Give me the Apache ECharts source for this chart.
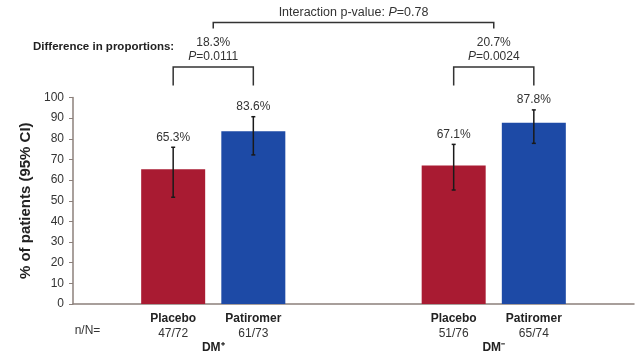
<!DOCTYPE html>
<html>
<head>
    <meta charset="utf-8">
    <style type="text/css">
        html,body { margin: 0px; padding: 0px; height: 100%; background: #fff; }
    </style>
    <script src="https://cdn.jsdelivr.net/npm/echarts@6/dist/echarts.min.js"></script>
</head>
<body>
    <div id="chart" style="width: 638px; height: 356px;"></div>
    <script type="text/javascript">
        // data
        var groups = ['DM⁺', 'DM⁻'];
        var treatments = ['Placebo', 'Patiromer'];
        var nN = [['47/72', '61/73'], ['51/76', '65/74']];
        var percent = [[65.3, 83.6], [67.1, 87.8]];
        var ciLow = [[51.7, 72.2], [55.2, 77.8]];
        var ciHigh = [[75.9, 90.7], [77.3, 94.0]];
        var diffPct = ['18.3%', '20.7%'];
        var diffP = ['0.0111', '0.0024'];
        var interactionP = '0.78';
        var yTicks = { min: 0, max: 100, step: 10 };

        // layout: slot positions on a 14-slot category axis
        var slotCount = 14;
        var groupSlots = [[2, 4], [9, 11]];
        var groupCenter = [3, 10];
        var colors = ['#a91b32', '#1d4aa6'];
        var FONT = '"Liberation Sans", Arial, sans-serif';

        var axisLabels = [], groupLabels = [], barData = [], errData = [];
        for (var i = 0; i < slotCount; i++) { axisLabels.push(''); groupLabels.push(''); barData.push('-'); }
        axisLabels[0] = '\n{m|n/N=}';
        groups.forEach(function (g, gi) {
            groupLabels[groupCenter[gi]] = g;
            treatments.forEach(function (t, ti) {
                var s = groupSlots[gi][ti];
                axisLabels[s] = '{b|' + t + '}\n{n|' + nN[gi][ti] + '}';
                barData[s] = { value: percent[gi][ti], itemStyle: { color: colors[ti] } };
                errData.push([s, ciLow[gi][ti], ciHigh[gi][ti], percent[gi][ti]]);
            });
        });
        var slotIdx = axisLabels.map(function (d, i) { return i; });

        var chart = echarts.init(document.getElementById('chart'));
        var option = {
            backgroundColor: '#fff',
            animation: false,
            textStyle: { fontFamily: FONT },
            grid: { left: 73, right: 4, top: 97.5, bottom: 52 },
            xAxis: [{
                type: 'category', data: slotIdx,
                axisLine: { lineStyle: { color: '#8c807b', width: 1.5 } },
                axisTick: { show: false },
                axisLabel: {
                    interval: 0, margin: 7,
                    formatter: function (v, i) { return axisLabels[i]; },
                    rich: {
                        b: { fontSize: 12, fontWeight: 'bold', color: '#222', lineHeight: 15, fontFamily: FONT },
                        n: { fontSize: 12, color: '#333', lineHeight: 15, fontFamily: FONT },
                        m: { fontSize: 12, color: '#333', lineHeight: 15, fontFamily: FONT, padding: [0, 11, 0, 0] }
                    }
                }
            }, {
                type: 'category', data: slotIdx, position: 'bottom', offset: 38,
                axisLine: { show: false }, axisTick: { show: false },
                axisLabel: {
                    interval: 0, margin: 0, fontSize: 12, fontWeight: 'bold', color: '#222',
                    formatter: function (v, i) { return groupLabels[i]; }
                }
            }],
            yAxis: {
                type: 'value', min: yTicks.min, max: yTicks.max, interval: yTicks.step,
                name: '% of patients (95% CI)', nameLocation: 'middle', nameGap: 39,
                nameTextStyle: { fontSize: 15, fontWeight: 'bold', color: '#222' },
                axisLine: { show: true, lineStyle: { color: '#8c807b', width: 1.5 } },
                axisTick: { show: true, length: 4, lineStyle: { color: '#8c807b' } },
                axisLabel: { fontSize: 12, color: '#333', margin: 9 },
                splitLine: { show: false }
            },
            series: [{
                type: 'bar', data: barData, barWidth: 64
            }, {
                // error bars + value labels
                type: 'custom', data: errData, clip: false, z: 5,
                renderItem: function (params, api) {
                    var lo = api.coord([api.value(0), api.value(1)]);
                    var hi = api.coord([api.value(0), api.value(2)]);
                    var x = lo[0];
                    var ls = { stroke: '#1a1a1a', lineWidth: 1.5 };
                    return { type: 'group', children: [
                        { type: 'line', shape: { x1: x, y1: lo[1], x2: x, y2: hi[1] }, style: ls },
                        { type: 'line', shape: { x1: x - 2, y1: lo[1], x2: x + 2, y2: lo[1] }, style: ls },
                        { type: 'line', shape: { x1: x - 2, y1: hi[1], x2: x + 2, y2: hi[1] }, style: ls },
                        { type: 'text', style: { text: api.value(3).toFixed(1) + '%', x: x, y: hi[1] - 10,
                            align: 'center', verticalAlign: 'middle', fontSize: 12, fontFamily: FONT, fill: '#333' } }
                    ] };
                }
            }, {
                // difference brackets per group
                type: 'custom', data: groups.map(function (g, gi) { return [gi]; }), clip: false, z: 5,
                renderItem: function (params, api) {
                    var gi = api.value(0);
                    var top = api.coord([groupCenter[gi], 100])[1];
                    var xc = api.coord([groupCenter[gi], 100])[0];
                    var xa = api.coord([groupSlots[gi][0], 100])[0];
                    var xb = api.coord([groupSlots[gi][1], 100])[0];
                    var yb = top - 30.5, yl = top - 12;
                    var ls = { stroke: '#333', lineWidth: 1.5, fill: null };
                    return { type: 'group', children: [
                        { type: 'polyline', shape: { points: [[xa, yl], [xa, yb], [xb, yb], [xb, yl]] }, style: ls },
                        { type: 'text', style: { text: diffPct[gi], x: xc, y: top - 55, align: 'center', verticalAlign: 'middle',
                            fontSize: 12, fontFamily: FONT, fill: '#333' } },
                        { type: 'text', style: { text: '{i|P}=' + diffP[gi], x: xc, y: top - 41, align: 'center', verticalAlign: 'middle',
                            fontSize: 12, fontFamily: FONT, fill: '#333', rich: { i: { fontStyle: 'italic', fontSize: 12, fontFamily: FONT, fill: '#333' } } } }
                    ] };
                }
            }, {
                // interaction bracket
                type: 'custom', data: [[0]], clip: false, z: 5,
                renderItem: function (params, api) {
                    var a = api.coord([groupCenter[0], 100]);
                    var b = api.coord([groupCenter[1], 100]);
                    var top = a[1];
                    var yb = top - 75, yl = top - 69;
                    var ls = { stroke: '#333', lineWidth: 1.5, fill: null };
                    return { type: 'group', children: [
                        { type: 'polyline', shape: { points: [[a[0], yl], [a[0], yb], [b[0], yb], [b[0], yl]] }, style: ls },
                        { type: 'text', style: { text: 'Interaction p-value: {i|P}=' + interactionP, x: (a[0] + b[0]) / 2, y: top - 84.5,
                            align: 'center', verticalAlign: 'middle', fontSize: 12.5, fontFamily: FONT, fill: '#333',
                            rich: { i: { fontStyle: 'italic', fontSize: 12.5, fontFamily: FONT, fill: '#333' } } } }
                    ] };
                }
            }],
            graphic: [{
                type: 'text', left: 33, top: 41,
                style: { text: 'Difference in proportions:', fontSize: 11.5, fontWeight: 'bold', fontFamily: FONT, fill: '#222' }
            }]
        };
        chart.setOption(option);
    </script>
</body>
</html>
